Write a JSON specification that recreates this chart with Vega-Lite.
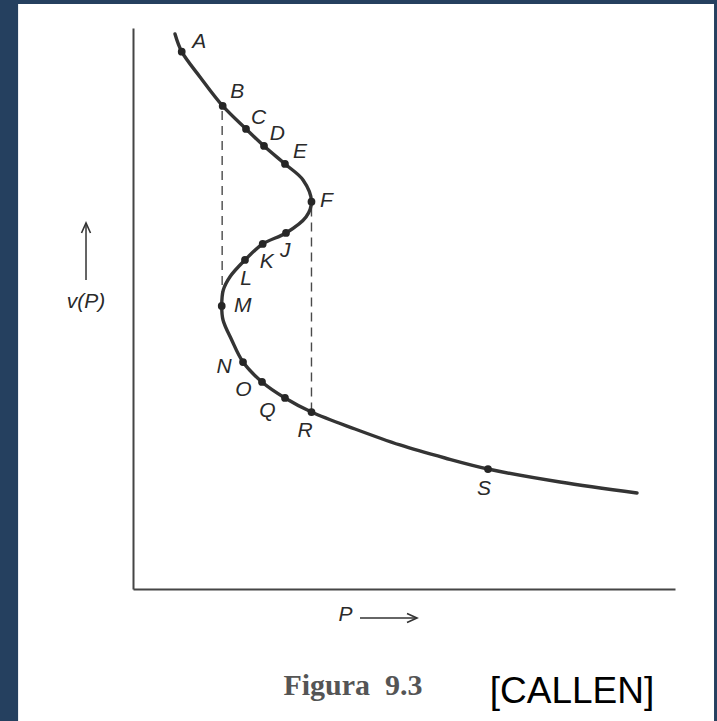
{
  "$schema": "https://vega.github.io/schema/vega-lite/v6.json",
  "autosize": {"type": "none"},
  "width": 542,
  "height": 561,
  "padding": {"left": 133, "top": 28, "right": 42, "bottom": 132},
  "background": "#25405f",
  "config": {
    "view": {"stroke": null},
    "axis": {"ticks": false, "labels": false, "grid": false, "domainColor": "#454545", "domainWidth": 2}
  },
  "data": {"values": [{}]},
  "datasets": {
    "curve": [
      {"o": 0, "P": 7.75, "v": 98.93},
      {"o": 1, "P": 8.99, "v": 95.78},
      {"o": 2, "P": 12.36, "v": 91.27},
      {"o": 3, "P": 16.55, "v": 86.10},
      {"o": 4, "P": 20.85, "v": 82.00},
      {"o": 5, "P": 24.17, "v": 78.97},
      {"o": 6, "P": 28.04, "v": 75.76},
      {"o": 7, "P": 31.37, "v": 72.91},
      {"o": 8, "P": 32.93, "v": 69.04},
      {"o": 9, "P": 31.92, "v": 66.31},
      {"o": 10, "P": 28.23, "v": 63.46},
      {"o": 11, "P": 23.93, "v": 61.50},
      {"o": 12, "P": 20.66, "v": 58.65},
      {"o": 13, "P": 17.90, "v": 55.67},
      {"o": 14, "P": 16.66, "v": 53.30},
      {"o": 15, "P": 16.37, "v": 50.45},
      {"o": 16, "P": 16.61, "v": 47.95},
      {"o": 17, "P": 18.21, "v": 44.39},
      {"o": 18, "P": 20.30, "v": 40.46},
      {"o": 19, "P": 23.80, "v": 36.90},
      {"o": 20, "P": 28.04, "v": 34.05},
      {"o": 21, "P": 32.93, "v": 31.55},
      {"o": 22, "P": 40.96, "v": 28.52},
      {"o": 23, "P": 49.26, "v": 25.67},
      {"o": 24, "P": 57.56, "v": 23.35},
      {"o": 25, "P": 65.50, "v": 21.39},
      {"o": 26, "P": 78.78, "v": 19.07},
      {"o": 27, "P": 92.99, "v": 17.11}
    ],
    "pts": [
      {"name": "A", "P": 8.99, "v": 95.78, "lp": 12.22, "lv": 97.56},
      {"name": "B", "P": 16.55, "v": 86.10, "lp": 19.24, "lv": 88.54},
      {"name": "C", "P": 20.85, "v": 82.00, "lp": 23.19, "lv": 83.96},
      {"name": "D", "P": 24.17, "v": 78.97, "lp": 26.63, "lv": 81.11},
      {"name": "E", "P": 28.04, "v": 75.76, "lp": 30.81, "lv": 77.83},
      {"name": "F", "P": 32.93, "v": 69.04, "lp": 35.67, "lv": 69.22},
      {"name": "J", "P": 28.23, "v": 63.46, "lp": 28.11, "lv": 60.30},
      {"name": "K", "P": 23.93, "v": 61.50, "lp": 24.67, "lv": 58.35},
      {"name": "L", "P": 20.66, "v": 58.65, "lp": 20.85, "lv": 55.26},
      {"name": "M", "P": 16.37, "v": 50.45, "lp": 20.24, "lv": 50.50},
      {"name": "N", "P": 20.30, "v": 40.46, "lp": 16.79, "lv": 39.52},
      {"name": "O", "P": 23.80, "v": 36.90, "lp": 20.35, "lv": 35.47},
      {"name": "Q", "P": 28.04, "v": 34.05, "lp": 24.78, "lv": 31.78},
      {"name": "R", "P": 32.93, "v": 31.55, "lp": 31.73, "lv": 28.18},
      {"name": "S", "P": 65.50, "v": 21.39, "lp": 64.76, "lv": 17.82}
    ],
    "dash": [
      {"P": 16.45, "v": 85.2, "v2": 51.5},
      {"P": 32.93, "v": 68.0, "v2": 31.6}
    ]
  },
  "layer": [
    {
      "mark": {"type": "rect", "fill": "#ffffff"},
      "encoding": {
        "x": {"datum": -21.2, "type": "quantitative", "title": null, "axis": {"zindex": 2}, "scale": {"domain": [0, 100], "nice": false, "zero": false}},
        "x2": {"datum": 107.2},
        "y": {"datum": 104.3, "type": "quantitative", "title": null, "axis": {"zindex": 2}, "scale": {"domain": [0, 100], "nice": false, "zero": false}},
        "y2": {"datum": -23.6}
      }
    },
    {
      "data": {"name": "dash"},
      "mark": {"type": "rule", "color": "#4a4a4a", "strokeWidth": 1.4, "strokeDash": [9, 6]},
      "encoding": {
        "x": {"field": "P", "type": "quantitative", "title": null, "axis": {"zindex": 2}, "scale": {"domain": [0, 100], "nice": false, "zero": false}},
        "y": {"field": "v", "type": "quantitative", "title": null, "axis": {"zindex": 2}, "scale": {"domain": [0, 100], "nice": false, "zero": false}},
        "y2": {"field": "v2"}
      }
    },
    {
      "data": {"name": "curve"},
      "mark": {"type": "line", "color": "#343434", "strokeWidth": 3.4, "interpolate": "catmull-rom", "strokeCap": "round"},
      "encoding": {
        "x": {"field": "P", "type": "quantitative", "title": null, "axis": {"zindex": 2}, "scale": {"domain": [0, 100], "nice": false, "zero": false}},
        "y": {"field": "v", "type": "quantitative", "title": null, "axis": {"zindex": 2}, "scale": {"domain": [0, 100], "nice": false, "zero": false}},
        "order": {"field": "o", "type": "quantitative"}
      }
    },
    {
      "data": {"name": "pts"},
      "mark": {"type": "point", "filled": true, "color": "#262626", "size": 60, "opacity": 1},
      "encoding": {
        "x": {"field": "P", "type": "quantitative", "title": null, "axis": {"zindex": 2}, "scale": {"domain": [0, 100], "nice": false, "zero": false}},
        "y": {"field": "v", "type": "quantitative", "title": null, "axis": {"zindex": 2}, "scale": {"domain": [0, 100], "nice": false, "zero": false}}
      }
    },
    {
      "data": {"name": "pts"},
      "mark": {"type": "text", "font": "Liberation Sans", "fontStyle": "italic", "fontSize": 21, "color": "#2a2a2a", "align": "center", "baseline": "middle"},
      "encoding": {
        "x": {"field": "lp", "type": "quantitative", "title": null, "axis": {"zindex": 2}, "scale": {"domain": [0, 100], "nice": false, "zero": false}},
        "y": {"field": "lv", "type": "quantitative", "title": null, "axis": {"zindex": 2}, "scale": {"domain": [0, 100], "nice": false, "zero": false}},
        "text": {"field": "name"}
      }
    },
    {
      "mark": {"type": "text", "text": "v(P)", "font": "Liberation Sans", "fontStyle": "italic", "fontSize": 21, "color": "#2a2a2a", "align": "center", "baseline": "middle"},
      "encoding": {
        "x": {"datum": -8.67, "type": "quantitative", "title": null, "axis": {"zindex": 2}, "scale": {"domain": [0, 100], "nice": false, "zero": false}},
        "y": {"datum": 51.16, "type": "quantitative", "title": null, "axis": {"zindex": 2}, "scale": {"domain": [0, 100], "nice": false, "zero": false}}
      }
    },
    {
      "mark": {"type": "rule", "color": "#333333", "strokeWidth": 1.5},
      "encoding": {
        "x": {"datum": -8.67, "type": "quantitative", "title": null, "axis": {"zindex": 2}, "scale": {"domain": [0, 100], "nice": false, "zero": false}},
        "y": {"datum": 55.08, "type": "quantitative", "title": null, "axis": {"zindex": 2}, "scale": {"domain": [0, 100], "nice": false, "zero": false}},
        "y2": {"datum": 65.24}
      }
    },
    {
      "mark": {"type": "point", "shape": "M-0.45,1L0,0L0.45,1", "filled": false, "size": 400, "strokeWidth": 1.6, "color": "#333333", "opacity": 1},
      "encoding": {
        "x": {"datum": -8.67, "type": "quantitative", "title": null, "axis": {"zindex": 2}, "scale": {"domain": [0, 100], "nice": false, "zero": false}},
        "y": {"datum": 65.24, "type": "quantitative", "title": null, "axis": {"zindex": 2}, "scale": {"domain": [0, 100], "nice": false, "zero": false}}
      }
    },
    {
      "mark": {"type": "text", "text": "P", "font": "Liberation Sans", "fontStyle": "italic", "fontSize": 21, "color": "#2a2a2a", "align": "center", "baseline": "middle"},
      "encoding": {
        "x": {"datum": 39.21, "type": "quantitative", "title": null, "axis": {"zindex": 2}, "scale": {"domain": [0, 100], "nice": false, "zero": false}},
        "y": {"datum": -4.63, "type": "quantitative", "title": null, "axis": {"zindex": 2}, "scale": {"domain": [0, 100], "nice": false, "zero": false}}
      }
    },
    {
      "mark": {"type": "rule", "color": "#333333", "strokeWidth": 1.5},
      "encoding": {
        "x": {"datum": 41.88, "type": "quantitative", "title": null, "axis": {"zindex": 2}, "scale": {"domain": [0, 100], "nice": false, "zero": false}},
        "x2": {"datum": 52.4},
        "y": {"datum": -5.17, "type": "quantitative", "title": null, "axis": {"zindex": 2}, "scale": {"domain": [0, 100], "nice": false, "zero": false}}
      }
    },
    {
      "mark": {"type": "point", "shape": "M-1,-0.45L0,0L-1,0.45", "filled": false, "size": 400, "strokeWidth": 1.6, "color": "#333333", "opacity": 1},
      "encoding": {
        "x": {"datum": 52.4, "type": "quantitative", "title": null, "axis": {"zindex": 2}, "scale": {"domain": [0, 100], "nice": false, "zero": false}},
        "y": {"datum": -5.17, "type": "quantitative", "title": null, "axis": {"zindex": 2}, "scale": {"domain": [0, 100], "nice": false, "zero": false}}
      }
    },
    {
      "mark": {"type": "text", "text": "Figura\u00a0 9.3", "font": "Liberation Serif", "fontWeight": "bold", "fontSize": 30, "color": "#555555", "align": "center", "baseline": "alphabetic"},
      "encoding": {
        "x": {"datum": 40.59, "type": "quantitative", "title": null, "axis": {"zindex": 2}, "scale": {"domain": [0, 100], "nice": false, "zero": false}},
        "y": {"datum": -18.89, "type": "quantitative", "title": null, "axis": {"zindex": 2}, "scale": {"domain": [0, 100], "nice": false, "zero": false}}
      }
    },
    {
      "mark": {"type": "text", "text": "[CALLEN]", "font": "Liberation Sans", "fontSize": 37, "color": "#000000", "align": "center", "baseline": "alphabetic"},
      "encoding": {
        "x": {"datum": 81.0, "type": "quantitative", "title": null, "axis": {"zindex": 2}, "scale": {"domain": [0, 100], "nice": false, "zero": false}},
        "y": {"datum": -20.32, "type": "quantitative", "title": null, "axis": {"zindex": 2}, "scale": {"domain": [0, 100], "nice": false, "zero": false}}
      }
    }
  ]
}
